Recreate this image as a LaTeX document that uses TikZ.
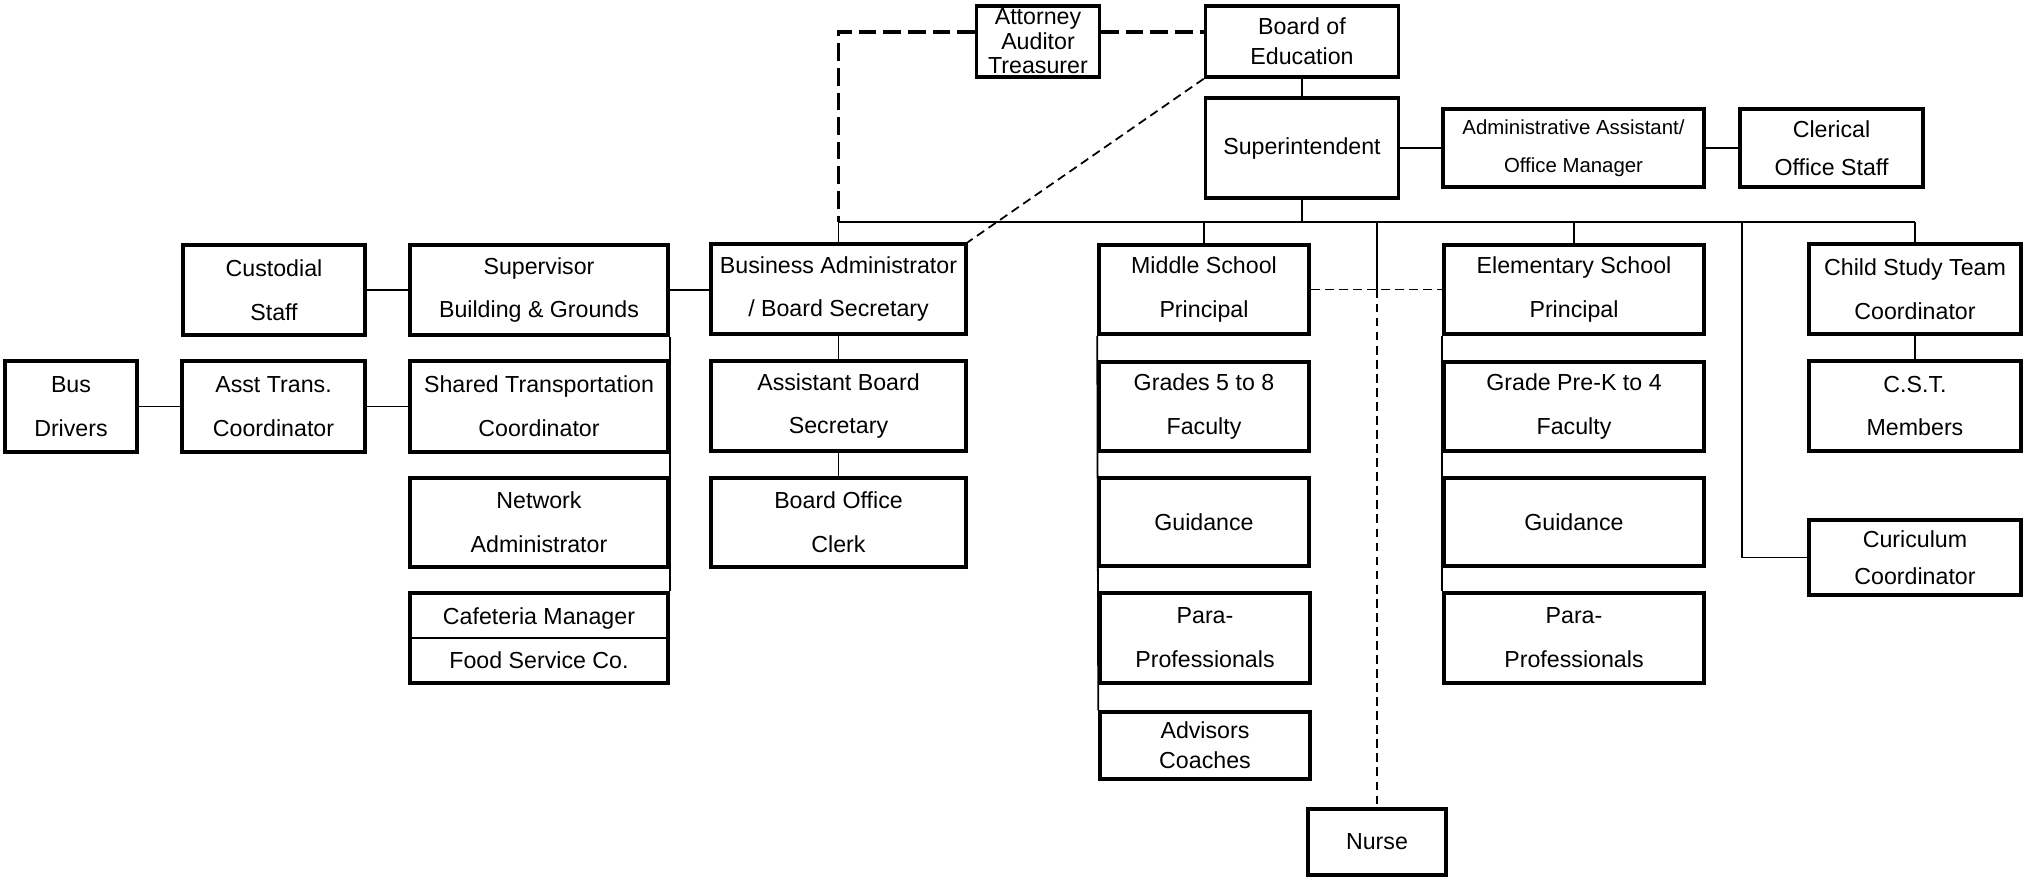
\documentclass[tikz,border=0pt]{standalone}
\usepackage{fontspec}
\setmainfont{Liberation Sans}
\usepackage{tikz}
\usetikzlibrary{arrows.meta}

\begin{document}
\begin{tikzpicture}[
    box/.style={draw, line width=1pt, align=center, inner sep=0pt,
      font=\fontsize{6.6}{12.5}\selectfont},
    tight/.style={font=\fontsize{6.6}{7}\selectfont},
    small/.style={font=\fontsize{5.8}{10.8}\selectfont},
    link/.style={line width=0.5pt},
    bigdash/.style={line width=0.9pt, dash pattern=on 5pt off 2pt},
    thindash/.style={line width=0.5pt, dash pattern=on 2.5pt off 1.5pt}
  ]
    \useasboundingbox (0,0) rectangle (20.28,-8.77);
    \node[box, tight, minimum width=1.23cm, minimum height=0.71cm] (attorney) at (10.38,-0.415) {Attorney\\Auditor\\Treasurer};
    \node[box, minimum width=1.93cm, minimum height=0.71cm, font=\fontsize{6.6}{8.5}\selectfont] (board) at (13.02,-0.415) {Board of\\Education};
    \node[box, minimum width=1.93cm, minimum height=1cm] (supt) at (13.02,-1.48) {Superintendent};
    \node[box, small, minimum width=2.61cm, minimum height=0.78cm] (adminasst) at (15.735,-1.48) {Administrative Assistant/\\Office Manager};
    \node[box, minimum width=1.83cm, minimum height=0.78cm, font=\fontsize{6.6}{10.8}\selectfont] (clerical) at (18.315,-1.48) {Clerical\\Office Staff};
    \node[box, minimum width=2.55cm, minimum height=0.9cm] (bizadmin) at (8.385,-2.89) {Business Administrator\\/ Board Secretary};
    \node[box, minimum width=2.55cm, minimum height=0.9cm] (asstsec) at (8.385,-4.06) {Assistant Board\\Secretary};
    \node[box, minimum width=2.55cm, minimum height=0.89cm] (clerk) at (8.385,-5.225) {Board Office\\Clerk};
    \node[box, minimum width=2.58cm, minimum height=0.9cm] (supervisor) at (5.39,-2.9) {Supervisor\\Building \& Grounds};
    \node[box, minimum width=1.82cm, minimum height=0.9cm] (custodial) at (2.74,-2.9) {Custodial\\Staff};
    \node[box, minimum width=2.58cm, minimum height=0.91cm] (sharedtrans) at (5.39,-4.065) {Shared Transportation\\Coordinator};
    \node[box, minimum width=1.83cm, minimum height=0.91cm] (assttrans) at (2.735,-4.065) {Asst Trans.\\Coordinator};
    \node[box, minimum width=1.32cm, minimum height=0.91cm] (bus) at (0.71,-4.065) {Bus\\Drivers};
    \node[box, minimum width=2.58cm, minimum height=0.89cm] (network) at (5.39,-5.225) {Network\\Administrator};
    \node[box, minimum width=2.58cm, minimum height=0.9cm] (cafeteria) at (5.39,-6.38) {Cafeteria Manager\\Food Service Co.};
    \node[box, minimum width=2.1cm, minimum height=0.89cm] (middle) at (12.04,-2.895) {Middle School\\Principal};
    \node[box, minimum width=2.1cm, minimum height=0.89cm] (grades58) at (12.04,-4.065) {Grades 5 to 8\\Faculty};
    \node[box, minimum width=2.1cm, minimum height=0.88cm] (guidancems) at (12.04,-5.22) {Guidance};
    \node[box, minimum width=2.1cm, minimum height=0.9cm] (params) at (12.05,-6.38) {Para-\\Professionals};
    \node[box, minimum width=2.1cm, minimum height=0.67cm, font=\fontsize{6.6}{8.5}\selectfont] (advisors) at (12.05,-7.455) {Advisors\\Coaches};
    \node[box, minimum width=1.38cm, minimum height=0.66cm] (nurse) at (13.77,-8.42) {Nurse};
    \node[box, minimum width=2.6cm, minimum height=0.89cm] (elem) at (15.74,-2.895) {Elementary School\\Principal};
    \node[box, minimum width=2.6cm, minimum height=0.89cm] (gradespk4) at (15.74,-4.065) {Grade Pre-K to 4\\Faculty};
    \node[box, minimum width=2.6cm, minimum height=0.88cm] (guidancees) at (15.74,-5.22) {Guidance};
    \node[box, minimum width=2.6cm, minimum height=0.9cm] (paraes) at (15.74,-6.38) {Para-\\Professionals};
    \node[box, minimum width=2.12cm, minimum height=0.9cm] (cst) at (19.15,-2.89) {Child Study Team\\Coordinator};
    \node[box, minimum width=2.12cm, minimum height=0.9cm] (cstmembers) at (19.15,-4.06) {C.S.T.\\Members};
    \node[box, minimum width=2.12cm, minimum height=0.75cm, font=\fontsize{6.6}{10.5}\selectfont] (curric) at (19.15,-5.575) {Curiculum\\Coordinator};
    \coordinate (barL) at (8.385,-2.22);
    \coordinate (barR) at (19.15,-2.22);
    \coordinate (curricX) at (17.42,-2.22);
    \coordinate (attyTurn) at (8.385,-0.32);
    \coordinate (nurseTop) at (nurse.north |- barL);
    \coordinate (nurseMid) at (nurse.north |- middle.east);
    \draw[link] (cafeteria.west) -- (cafeteria.east);
    \draw[link] (board) -- (supt);
    \draw[link] (supt) -- (adminasst);
    \draw[link] (adminasst) -- (clerical);
    \draw[link] (supt) -- (supt |- barL);
    \draw[link] (barL) -- (barR);
    \draw[link] (barL) -- (bizadmin);
    \draw[link] (middle |- barL) -- (middle);
    \draw[link] (elem |- barL) -- (elem);
    \draw[link] (barR) -- (cst);
    \draw[link] (curricX) |- (curric.west);
    \draw[link] (nurseTop) -- (nurseMid);
    \draw[link] (bizadmin) -- (asstsec);
    \draw[link] (asstsec) -- (clerk);
    \draw[link] (supervisor.east) -- (supervisor.east -| bizadmin.west);
    \draw[link] (custodial) -- (supervisor);
    \draw[link] (bus) -- (assttrans);
    \draw[link] (assttrans) -- (sharedtrans);
    \draw[link] (supervisor.south east) -- (cafeteria.north east);
    \draw[link] (middle.south west) -- (advisors.north west);
    \draw[link] (elem.south west) -- (paraes.north west);
    \draw[link] (cst) -- (cstmembers);
    \draw[bigdash] (attorney.west |- attyTurn) -- (attyTurn) -- (barL);
    \draw[bigdash] (attorney.east |- attyTurn) -- (board.west |- attyTurn);
    \draw[thindash] (board.south west) -- (bizadmin.north east);
    \draw[thindash] (middle.east) -- (elem.west);
    \draw[thindash] (nurseMid) -- (nurse.north);
  \end{tikzpicture}
\end{document}
